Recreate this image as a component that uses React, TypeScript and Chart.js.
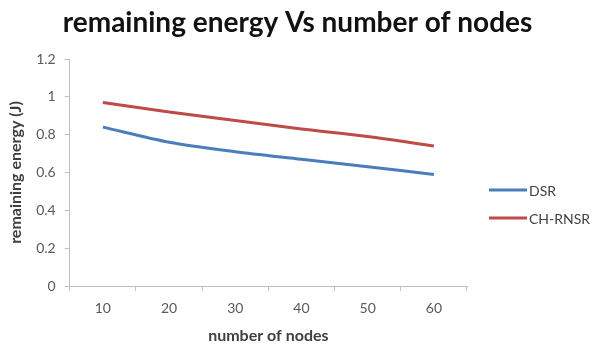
import React, { useEffect, useRef } from "react";
import { Chart, registerables } from "chart.js";

Chart.register(...registerables);

const categories = ["10", "20", "30", "40", "50", "60"];
const dsrValues = [0.84, 0.76, 0.71, 0.67, 0.63, 0.59];
const chRnsrValues = [0.97, 0.92, 0.875, 0.83, 0.79, 0.74];
const seriesNames = ["DSR", "CH-RNSR"];
const seriesColors = ["#4A7EBB", "#BE4B48"];
const titleText = "remaining energy Vs number of nodes";
const xTitle = "number of nodes";
const yTitle = "remaining energy (J)";

const FONT = "Lato, 'Open Sans', sans-serif";

const decorPlugin = {
  id: "decor",
  afterDraw(chart: any) {
    const { ctx, chartArea } = chart;
    ctx.save();
    // title centered on the whole canvas
    ctx.font = `bold 28px ${FONT}`;
    ctx.fillStyle = "#111";
    ctx.textAlign = "center";
    ctx.textBaseline = "middle";
    ctx.fillText(titleText, chart.width / 2, 23);
    // legend at the right of the plot
    ctx.font = `14px ${FONT}`;
    ctx.textAlign = "left";
    chart.data.datasets.forEach((ds: any, i: number) => {
      const y = chartArea.top + 131 + i * 28;
      const x0 = chartArea.right + 22;
      ctx.strokeStyle = ds.borderColor;
      ctx.lineWidth = 3;
      ctx.beginPath();
      ctx.moveTo(x0, y);
      ctx.lineTo(x0 + 38, y);
      ctx.stroke();
      ctx.fillStyle = "#404040";
      ctx.fillText(ds.label, x0 + 40, y + 1);
    });
    ctx.restore();
  },
};

export default function App() {
  const ref = useRef<HTMLCanvasElement | null>(null);
  useEffect(() => {
    document.body.style.margin = "0";
    const chart = new Chart(ref.current!, {
      type: "line",
      data: {
        labels: categories,
        datasets: [
          {
            label: seriesNames[0],
            data: dsrValues,
            borderColor: seriesColors[0],
            backgroundColor: seriesColors[0],
            borderWidth: 3,
            pointRadius: 0,
            tension: 0.3,
          },
          {
            label: seriesNames[1],
            data: chRnsrValues,
            borderColor: seriesColors[1],
            backgroundColor: seriesColors[1],
            borderWidth: 3,
            pointRadius: 0,
            tension: 0.3,
          },
        ],
      },
      options: {
        animation: false,
        responsive: false,
        layout: { padding: { left: 6, right: 128, top: 59, bottom: 2 } },
        plugins: {
          legend: { display: false },
          tooltip: { enabled: false },
          title: { display: false },
        },
        scales: {
          x: {
            offset: true,
            border: { display: true, color: "#BFBFBF", width: 1 },
            grid: { display: true, drawOnChartArea: false, tickLength: 5, color: "#BFBFBF", offset: true },
            ticks: { color: "#595959", font: { family: FONT, size: 14 }, padding: 9 },
            title: {
              display: true,
              text: xTitle,
              color: "#404040",
              font: { family: FONT, size: 16, weight: "bold" },
              padding: { top: 0, bottom: 0 },
            },
          },
          y: {
            min: 0,
            max: 1.2,
            border: { display: true, color: "#BFBFBF", width: 1 },
            grid: { display: true, drawOnChartArea: false, tickLength: 5, color: "#BFBFBF" },
            ticks: {
              stepSize: 0.2,
              color: "#595959",
              font: { family: FONT, size: 14 },
              padding: 9,
              callback: (v: any) => String(Number(Number(v).toFixed(1))),
            },
            title: {
              display: true,
              text: yTitle,
              color: "#404040",
              font: { family: FONT, size: 16, weight: "bold" },
              padding: { top: 0, bottom: 2 },
            },
          },
        },
      },
      plugins: [decorPlugin],
    });
    return () => chart.destroy();
  }, []);
  return (
    <div style={{ width: 595, height: 347, background: "#fff" }}>
      <canvas ref={ref} width={595} height={347} />
    </div>
  );
}
